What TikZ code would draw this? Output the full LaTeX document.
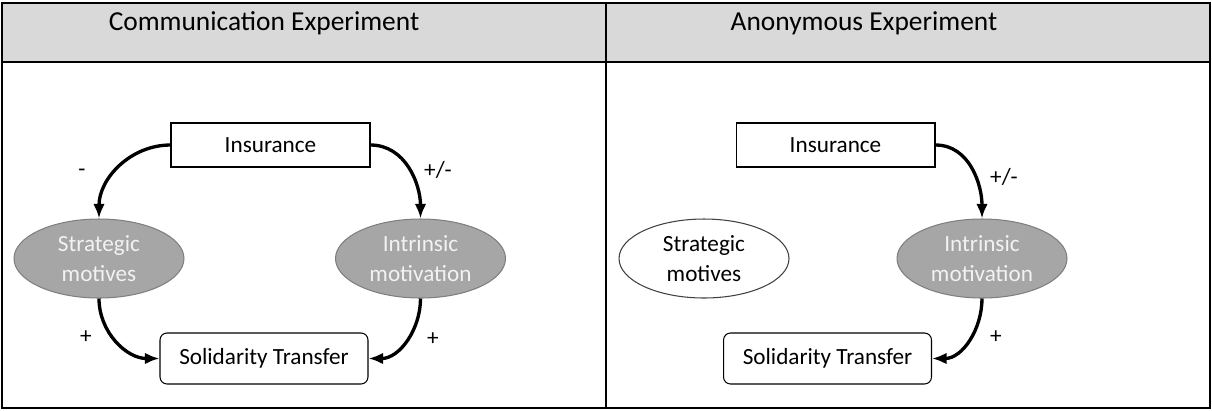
\documentclass[tikz,border=0pt]{standalone}
\usepackage{fontspec}
\setmainfont{Carlito}
\usepackage{xcolor}
\usetikzlibrary{shapes.geometric,arrows.meta}

\definecolor{headgray}{HTML}{D9D9D9}
\definecolor{motgray}{HTML}{A6A6A6}
\definecolor{rimgray}{HTML}{7F7F7F}
\definecolor{motfont}{HTML}{F2F2F2}

\tikzset{
  bodyfont/.style={font=\fontsize{13.2}{17.5}\selectfont},
  headfont/.style={font=\fontsize{15.6}{18}\selectfont},
  insbox/.style={draw,line width=0.6pt,minimum width=3.98cm,minimum height=0.88cm,inner sep=0pt,bodyfont},
  solbox/.style={draw,line width=0.6pt,rounded corners=0.14cm,minimum width=4.16cm,minimum height=1.02cm,inner sep=0pt,bodyfont},
  motive/.style={ellipse,draw=rimgray,line width=0.6pt,minimum width=3.4cm,minimum height=1.58cm,inner sep=0pt,align=center,bodyfont},
  active/.style={motive,fill=motgray,text=motfont},
  idle/.style={motive,draw=black!75,fill=white},
  link/.style={-{Latex[length=2.9mm,width=2.3mm]},line width=1.9pt},
  sign/.style={inner sep=0pt,bodyfont}
}

\begin{document}
\begin{tikzpicture}[x=0.02cm,y=-0.02cm]
    \useasboundingbox (0,0) rectangle (1212,410);
    % table
    \fill[headgray] (2,3) rectangle (1210,62);
    \draw[line width=1.1pt] (2,3) rectangle (1210,408);
    \draw[line width=1.1pt] (2,62) -- (1210,62);
    \draw[line width=1.1pt] (606,3) -- (606,408);
    \node[headfont,anchor=base] (hcom) at (264,30) {Communication Experiment};
    \node[headfont,anchor=base] (hano) at (864,30) {Anonymous Experiment};

    % communication
    \node[insbox] (ins1) at (270.5,145) {Insurance};
    \node[active] (str1) at (99,258.5) {Strategic\\motives};
    \node[active] (int1) at (420.5,258.5) {Intrinsic\\motivation};
    \node[solbox] (sol1) at (264,358.5) {Solidarity Transfer};
    \draw[link] (ins1.west) to [out=180,in=90] (str1.north);
    \draw[link] (ins1.east) to [out=0,in=90] (int1.north);
    \draw[link] (str1.south) to [out=-90,in=180] (sol1.west);
    \draw[link] (int1.south) to [out=-90,in=0] (sol1.east);
    \node[sign] (m1) at (82,173) {-};
    \node[sign] (pm1) at (438,170) {+/-};
    \node[sign] (p1) at (86,337) {+};
    \node[sign] (p2) at (433,339) {+};

    % anonymous
    \node[insbox] (ins2) at (835.5,145) {Insurance};
    \node[idle] (str2) at (704,258.5) {Strategic\\motives};
    \node[active] (int2) at (982,258.5) {Intrinsic\\motivation};
    \node[solbox] (sol2) at (827.5,358.5) {Solidarity Transfer};
    \draw[link] (ins2.east) to [out=0,in=90] (int2.north);
    \draw[link] (int2.south) to [out=-90,in=0] (sol2.east);
    \node[sign] (pm2) at (1004,177) {+/-};
    \node[sign] (p3) at (996,337) {+};
\end{tikzpicture}
\end{document}
